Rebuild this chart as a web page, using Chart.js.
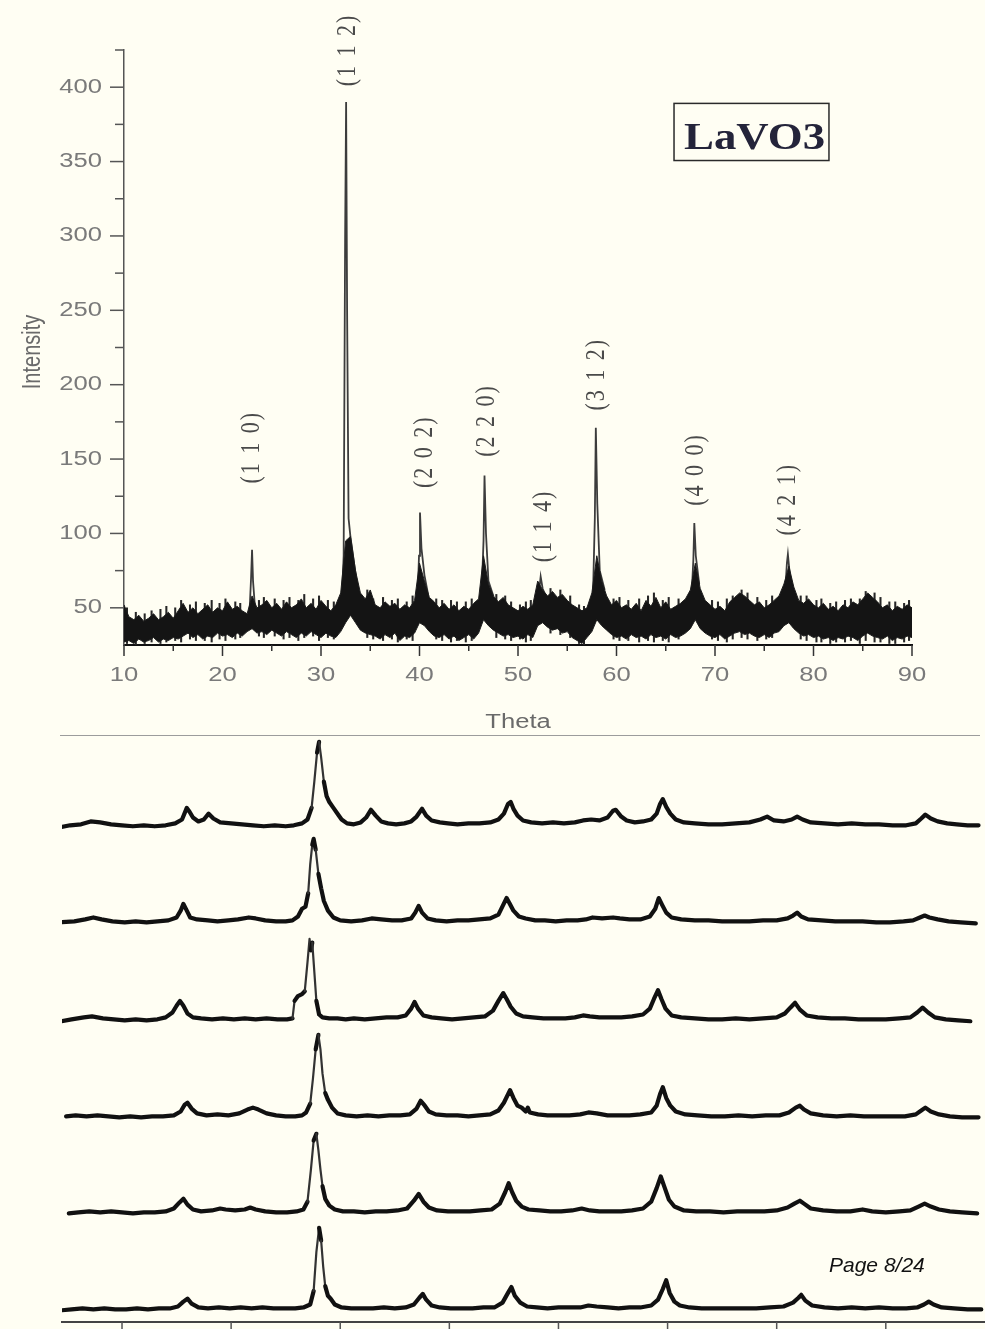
<!DOCTYPE html>
<html><head><meta charset="utf-8">
<script src="https://cdn.jsdelivr.net/npm/chart.js@4/dist/chart.umd.min.js"></script>
<style>
html,body{margin:0;padding:0;background:#fffef3;}
#wrap{position:relative;width:985px;height:1329px;overflow:hidden;background:#fffef3;}
#c1{position:absolute;left:0;top:0;}
#c2{position:absolute;left:0;top:736px;}
#sep{position:absolute;left:60px;top:735px;width:920px;height:0;border-top:1.5px solid #9c9c9c;}
#page{position:absolute;left:829px;top:1254px;font:italic 21px "Liberation Sans",Arial,sans-serif;line-height:21px;color:#111;white-space:nowrap;}
</style></head>
<body>
<div id="wrap">
<canvas id="c1" width="985" height="736"></canvas>
<div id="sep"></div>
<canvas id="c2" width="985" height="593"></canvas>
<div id="page">Page 8/24</div>
</div>
<script>
// ---------- TOP CHART DATA (LaVO3 XRD) ----------
const thetaStart = 10, thetaStep = 0.5; // sampling of the noise band, 10..90
const noiseUpper = [
 52,44,42,45,41,43,46,42,44,47,
 43,48,53,47,50,46,49,52,47,50,
 48,54,49,51,48,46,58,50,52,55,
 50,53,49,54,50,52,56,50,53,49,
 55,51,48,52,60,95,98,75,60,56,
 62,52,50,54,51,53,49,52,50,55,
 80,68,57,54,50,53,49,52,48,51,
 49,53,56,85,66,58,54,57,52,50,
 48,51,49,52,68,62,58,61,57,59,
 55,52,50,48,50,60,85,68,58,52,
 55,50,52,49,53,48,55,51,57,50,
 54,49,51,53,56,62,80,63,55,52,
 49,51,48,54,57,60,58,55,52,54,
 50,52,55,58,66,78,64,55,53,56,
 52,50,53,49,51,48,52,50,54,52,
 56,60,57,54,50,52,48,51,49,52,
 50];
const noiseLower = [
 27,28,26,29,27,28,30,27,29,28,
 30,29,31,33,30,32,29,31,30,33,
 31,32,30,33,31,34,36,33,34,32,
 35,33,31,34,32,30,33,31,34,32,
 30,33,31,30,34,40,45,40,35,33,
 32,31,29,32,30,33,28,31,30,33,
 40,38,34,31,30,32,29,31,28,30,
 32,29,33,42,38,35,33,31,32,30,
 31,29,32,30,38,40,37,35,36,33,
 34,30,28,26,30,34,42,38,35,32,
 30,31,29,32,30,31,29,32,30,31,
 29,32,30,31,33,36,42,36,33,31,
 30,32,29,31,33,34,32,33,31,30,
 32,30,33,34,38,40,36,33,31,32,
 30,31,29,30,28,30,29,31,30,28,
 31,33,31,30,29,31,28,30,29,31,
 30];
// isolated noise streaks sticking out of the band: [theta, low, high]
const noiseSpikes = [
 [10.3,26,50],[11.2,25,47],[12.1,26,46],[12.8,27,48],[13.7,26,49],[14.3,27,51],[15.2,28,50],[15.8,27,55],
 [16.7,29,52],[17.3,28,54],[18.2,28,53],[18.9,27,55],[19.7,29,53],[20.3,28,56],[21.3,29,54],[21.8,30,53],
 [23.7,31,55],[24.2,30,57],[25.3,31,56],[26.2,29,55],[26.8,30,57],[27.7,28,55],[28.3,30,59],[29.2,31,56],
 [29.8,28,58],[30.7,30,55],[31.3,29,54],[34.7,30,62],[35.3,29,56],[36.3,28,57],[37.2,29,55],[37.8,27,56],
 [38.7,29,54],[39.3,28,58],[41.7,29,56],[42.3,28,55],[43.2,27,55],[43.8,28,54],[44.7,27,54],[45.3,28,56],
 [47.8,30,59],[48.7,29,58],[49.3,28,54],[50.2,29,52],[50.8,27,54],[51.3,28,55],[53.3,33,63],[54.3,32,62],
 [55.3,30,58],[56.2,26,52],[56.7,24,51],[59.7,29,56],[60.3,28,57],[61.2,28,55],[62.3,27,56],[63.2,28,58],
 [63.8,27,60],[64.7,28,55],[65.3,27,57],[66.3,29,56],[69.7,29,55],[70.3,28,54],[71.2,27,56],[71.8,29,58],
 [72.7,30,62],[73.3,29,60],[74.3,28,57],[75.2,29,55],[75.8,30,58],[78.7,29,58],[79.3,28,58],[80.3,27,55],
 [80.8,27,56],[81.7,26,53],[82.3,27,54],[83.2,27,55],[83.8,28,56],[84.7,26,56],[85.3,28,61],[86.2,27,60],
 [86.8,27,57],[87.7,26,54],[88.3,26,54],[89.2,27,53],[89.7,28,55]];
// sharp Bragg peaks: [theta, intensity]
const peak110 = [[22.75,48],[22.9,70],[23.0,89],[23.1,68],[23.3,50]];
const peak112 = [[32.1,52],[32.3,85],[32.45,300],[32.55,390],[32.65,250],[32.8,110],[33.0,97],[33.4,78],[33.8,60]];
const peak202 = [[39.8,55],[39.95,85],[40.05,114],[40.2,90],[40.5,72],[40.9,58]];
const peak220 = [[46.3,58],[46.5,95],[46.6,139],[46.75,100],[47.0,68],[47.5,58]];
const peak114 = [[52.0,52],[52.2,65],[52.3,71],[52.5,63],[52.8,58]];
const peak312 = [[57.6,55],[57.8,110],[57.9,171],[58.05,120],[58.3,75],[58.8,62]];
const peak400 = [[67.6,55],[67.8,82],[67.9,107],[68.05,85],[68.4,66]];
const peak421 = [[77.1,58],[77.3,80],[77.4,86],[77.6,72],[78.0,60]];
const peakList = [peak110,peak112,peak202,peak220,peak114,peak312,peak400,peak421];

const xMajorTicks = [10,20,30,40,50,60,70,80,90];
const xMinorTicks = [15,25,35,45,55,65,75,85];
const yMajorTicks = [50,100,150,200,250,300,350,400];
const yMinorTicks = [75,125,175,225,275,325,375,425];

const hklText  = ['(1 1 0)','(1 1 2)','(2 0 2)','(2 2 0)','(1 1 4)','(3 1 2)','(4 0 0)','(4 2 1)'];
const hklTheta = [23.05, 32.7, 40.55, 46.9, 52.6, 58.0, 68.1, 77.4];
const hklY     = [158, 425, 155, 176, 105, 207, 143, 123];
const sampleName = 'LaVO3';
const sampleBox = {x0: 65.84, x1: 81.57, y0: 350.7, y1: 389.1};

// ---------- BOTTOM CHART DATA (six stacked patterns) ----------
const traceOffsets = [512, 412, 311, 211, 112, 12];
const trace1 = [[13.5,-2],[14.2,0],[15.0,1],[15.7,4],[16.4,3],[17.2,1],[18.0,0],[18.8,-1],[19.6,0],[20.4,-1],[21.2,0],[21.9,2],[22.4,6],[22.75,18],[22.95,14],[23.2,8],[23.6,4],[24.0,6],[24.35,12],[24.7,7],[25.2,3],[26.0,2],[26.8,1],[27.6,0],[28.4,-1],[29.2,0],[30.0,-1],[30.6,0],[31.2,2],[31.6,6],[31.9,18],[32.1,45],[32.3,75],[32.45,86],[32.6,70],[32.8,45],[33.0,30],[33.2,24],[33.5,18],[33.8,12],[34.1,6],[34.5,2],[35.0,1],[35.5,3],[35.9,8],[36.25,16],[36.6,10],[37.0,4],[37.5,2],[38.1,1],[38.7,2],[39.2,4],[39.6,9],[40.0,17],[40.3,10],[40.7,5],[41.3,3],[41.9,2],[42.6,1],[43.4,2],[44.2,2],[45.0,3],[45.6,6],[46.0,12],[46.3,22],[46.5,24],[46.7,17],[47.0,10],[47.4,5],[48.0,3],[48.8,2],[49.6,3],[50.4,2],[51.2,3],[51.8,5],[52.4,6],[53.0,5],[53.6,8],[54.0,15],[54.2,16],[54.6,9],[55.0,5],[55.6,3],[56.2,4],[56.8,6],[57.2,12],[57.45,22],[57.65,27],[57.9,19],[58.2,12],[58.6,6],[59.2,3],[60.0,2],[61.0,1],[62.0,1],[63.0,2],[64.0,3],[64.8,6],[65.3,9],[65.8,5],[66.5,4],[67.1,6],[67.5,9],[67.9,6],[68.5,3],[69.5,2],[70.5,1],[71.5,2],[72.5,1],[73.5,1],[74.5,0],[75.5,0],[76.2,2],[76.6,7],[76.9,11],[77.3,7],[77.8,4],[78.5,2],[79.2,1],[80.0,0],[80.8,0]];
const trace2 = [[13.5,0],[14.5,1],[15.3,3],[15.9,5],[16.5,3],[17.3,1],[18.2,0],[19.0,1],[19.8,0],[20.6,1],[21.4,2],[22.0,5],[22.3,12],[22.5,19],[22.75,12],[23.0,5],[23.5,3],[24.3,2],[25.0,1],[25.8,2],[26.5,3],[27.3,5],[27.8,4],[28.5,2],[29.3,1],[30.0,1],[30.5,2],[30.9,6],[31.2,14],[31.45,16],[31.65,30],[31.8,60],[31.95,80],[32.05,86],[32.2,75],[32.4,50],[32.6,35],[32.8,22],[33.1,12],[33.5,5],[34.0,2],[34.8,1],[35.6,2],[36.3,4],[37.0,3],[37.8,2],[38.5,2],[39.2,4],[39.5,10],[39.75,17],[40.0,10],[40.4,4],[41.0,2],[41.8,1],[42.6,2],[43.4,2],[44.2,3],[45.0,4],[45.6,8],[45.95,18],[46.2,25],[46.4,20],[46.7,12],[47.1,6],[47.6,4],[48.3,2],[49.0,2],[49.8,1],[50.6,2],[51.4,2],[52.0,3],[52.5,5],[53.2,4],[54.0,5],[54.5,4],[55.2,3],[56.0,3],[56.7,6],[57.1,14],[57.35,25],[57.6,18],[57.9,10],[58.3,5],[59.0,3],[60.0,2],[61.0,2],[62.0,1],[63.0,1],[64.0,1],[65.0,2],[66.0,2],[66.8,4],[67.2,7],[67.5,10],[67.8,6],[68.3,3],[69.3,2],[70.3,1],[71.3,1],[72.3,1],[73.3,0],[74.3,0],[75.3,1],[76.0,2],[76.5,5],[76.85,7],[77.2,5],[77.8,3],[78.6,1],[79.5,0],[80.6,-1]];
const trace3 = [[13.5,-1],[14.3,1],[15.2,3],[15.8,4],[16.6,2],[17.4,1],[18.2,0],[19.0,1],[19.8,0],[20.6,1],[21.2,3],[21.7,8],[22.0,15],[22.25,20],[22.5,15],[22.8,7],[23.2,3],[23.8,2],[24.6,1],[25.4,2],[26.2,1],[27.0,2],[27.8,1],[28.6,2],[29.4,1],[30.1,1],[30.5,2],[30.65,20],[30.9,25],[31.2,27],[31.4,30],[31.6,60],[31.75,84],[31.85,72],[31.95,80],[32.1,50],[32.25,20],[32.45,6],[32.7,3],[33.2,2],[33.8,2],[34.4,1],[35.0,2],[35.8,1],[36.6,2],[37.4,3],[38.2,3],[38.8,5],[39.2,12],[39.45,19],[39.7,12],[40.1,5],[40.7,3],[41.4,2],[42.2,1],[43.0,2],[43.8,3],[44.6,4],[45.2,10],[45.6,20],[45.95,28],[46.2,22],[46.5,14],[46.9,7],[47.4,4],[48.1,3],[48.9,2],[49.7,2],[50.5,2],[51.2,3],[51.8,5],[52.3,4],[53.0,3],[53.8,3],[54.6,3],[55.4,4],[56.2,6],[56.7,12],[57.0,22],[57.3,31],[57.55,22],[57.85,12],[58.3,5],[59.0,3],[60.0,2],[61.0,1],[62.0,1],[63.0,2],[64.0,1],[65.0,2],[66.0,3],[66.6,7],[67.0,13],[67.35,18],[67.7,11],[68.2,5],[69.0,3],[70.0,2],[71.0,2],[72.0,1],[73.0,1],[74.0,1],[75.0,2],[75.8,3],[76.3,8],[76.7,13],[77.1,8],[77.6,3],[78.4,1],[79.3,0],[80.2,-1]];
const trace4 = [[13.9,1],[14.6,2],[15.4,1],[16.2,2],[17.0,1],[17.8,0],[18.6,1],[19.4,0],[20.2,1],[21.0,1],[21.8,2],[22.3,6],[22.6,13],[22.8,15],[23.1,9],[23.5,4],[24.2,2],[25.0,3],[25.8,2],[26.6,4],[27.2,8],[27.6,10],[28.0,8],[28.6,4],[29.3,2],[30.0,1],[30.7,1],[31.2,2],[31.5,5],[31.8,14],[32.0,40],[32.2,70],[32.4,85],[32.55,70],[32.7,45],[32.9,25],[33.1,18],[33.4,10],[33.8,4],[34.4,2],[35.2,1],[36.0,2],[36.8,1],[37.6,2],[38.4,2],[39.1,3],[39.6,9],[39.9,17],[40.2,12],[40.5,6],[41.0,3],[41.8,2],[42.6,2],[43.4,1],[44.2,2],[45.0,3],[45.6,7],[46.0,15],[46.45,28],[46.7,20],[47.0,12],[47.3,10],[47.6,6],[47.75,10],[47.9,5],[48.5,3],[49.2,2],[50.0,2],[50.8,2],[51.6,3],[52.2,5],[52.8,4],[53.6,2],[54.4,2],[55.2,2],[56.0,3],[56.8,5],[57.2,12],[57.45,24],[57.65,31],[57.9,20],[58.2,12],[58.6,6],[59.3,3],[60.2,2],[61.2,1],[62.2,1],[63.2,2],[64.2,1],[65.2,2],[66.2,2],[66.9,5],[67.4,10],[67.7,12],[68.0,8],[68.5,4],[69.4,2],[70.4,1],[71.4,2],[72.4,1],[73.4,1],[74.4,1],[75.4,1],[76.2,3],[76.6,7],[76.9,10],[77.3,6],[77.9,3],[78.7,1],[79.6,0],[80.8,0]];
const trace5 = [[14.1,0],[14.8,1],[15.6,2],[16.4,1],[17.2,2],[18.0,1],[18.8,0],[19.6,1],[20.4,1],[21.2,2],[21.8,5],[22.2,11],[22.5,15],[22.8,9],[23.2,4],[23.8,2],[24.6,3],[25.2,5],[25.6,4],[26.3,3],[27.0,4],[27.4,6],[27.8,4],[28.5,2],[29.3,1],[30.1,1],[30.8,2],[31.3,4],[31.6,12],[31.85,45],[32.05,75],[32.25,82],[32.4,65],[32.55,45],[32.7,28],[32.9,15],[33.2,8],[33.6,4],[34.2,2],[35.0,2],[35.8,1],[36.6,2],[37.4,2],[38.2,3],[38.9,5],[39.4,13],[39.75,20],[40.1,12],[40.5,6],[41.1,3],[41.9,2],[42.7,2],[43.5,2],[44.3,3],[45.1,4],[45.7,10],[46.1,22],[46.35,31],[46.6,22],[46.9,13],[47.3,7],[47.8,4],[48.6,3],[49.4,2],[50.2,2],[51.0,3],[51.7,5],[52.3,3],[53.0,2],[53.8,2],[54.6,2],[55.4,3],[56.2,5],[56.8,12],[57.2,26],[57.5,38],[57.8,26],[58.1,14],[58.5,7],[59.2,3],[60.1,2],[61.1,2],[62.1,1],[63.1,2],[64.1,2],[65.1,2],[66.0,3],[66.8,6],[67.3,10],[67.7,13],[68.0,10],[68.5,5],[69.4,3],[70.4,2],[71.4,2],[72.3,4],[73.0,2],[74.0,1],[75.0,2],[75.8,3],[76.4,7],[76.85,10],[77.3,7],[77.9,4],[78.7,2],[79.6,1],[80.7,0]];
const trace6 = [[13.5,0],[14.3,1],[15.1,2],[15.9,1],[16.7,2],[17.5,1],[18.3,1],[19.1,2],[19.9,1],[20.7,2],[21.5,2],[22.1,4],[22.5,9],[22.8,12],[23.1,7],[23.6,3],[24.3,2],[25.1,3],[25.9,2],[26.7,3],[27.5,2],[28.3,3],[29.1,2],[29.9,2],[30.7,2],[31.3,3],[31.8,6],[32.05,20],[32.25,60],[32.45,85],[32.6,72],[32.75,45],[32.9,25],[33.1,15],[33.3,12],[33.6,6],[34.1,3],[34.8,2],[35.6,2],[36.4,2],[37.2,3],[38.0,2],[38.8,3],[39.4,6],[39.8,13],[40.05,17],[40.3,11],[40.7,5],[41.3,3],[42.1,2],[42.9,2],[43.7,2],[44.5,3],[45.3,3],[45.9,8],[46.3,18],[46.55,24],[46.8,15],[47.2,8],[47.7,4],[48.4,3],[49.2,2],[50.0,3],[50.8,3],[51.6,3],[52.2,5],[52.8,4],[53.6,3],[54.4,2],[55.2,3],[56.0,3],[56.8,5],[57.3,11],[57.65,22],[57.9,31],[58.15,18],[58.5,9],[58.9,5],[59.6,3],[60.5,2],[61.5,2],[62.5,2],[63.5,2],[64.5,2],[65.5,3],[66.5,4],[67.2,8],[67.6,13],[67.8,16],[68.1,10],[68.6,5],[69.5,3],[70.5,2],[71.5,3],[72.5,2],[73.5,3],[74.5,2],[75.5,2],[76.3,3],[76.8,6],[77.15,9],[77.5,6],[78.1,3],[79.0,2],[80.0,1],[81.0,1]];
const traces = [trace1, trace2, trace3, trace4, trace5, trace6];
const bottomTicks = [18,26,34,42,50,58,66,74];

// ---------- helpers ----------
function textStretch(ctx, text, x, y, align, sx) {
  ctx.save(); ctx.translate(x, y); ctx.scale(sx, 1);
  ctx.textAlign = align; ctx.fillText(text, 0, 0); ctx.restore();
}
function textVertical(ctx, text, x, y, sx) {
  ctx.save(); ctx.translate(x, y); ctx.rotate(-Math.PI / 2); ctx.scale(1, sx);
  ctx.textAlign = 'center'; ctx.textBaseline = 'middle'; ctx.fillText(text, 0, 0); ctx.restore();
}

// ---------- top chart ----------
const grid = noiseUpper.map((_, i) => thetaStart + i * thetaStep);
const peakData = [];
peakList.forEach(p => {
  p.forEach(([t, v]) => peakData.push({x: t, y: v}));
  peakData.push({x: p[p.length - 1][0], y: null});
});

const topDecor = {
  id: 'topDecor',
  afterDraw(chart) {
    const {ctx, chartArea: a, scales: {x, y}} = chart;
    ctx.save();
    ctx.strokeStyle = '#555'; ctx.lineWidth = 1.5;
    y.ticks.forEach(t => { const py = y.getPixelForValue(t.value);
      ctx.beginPath(); ctx.moveTo(a.left - 14, py); ctx.lineTo(a.left, py); ctx.stroke(); });
    yMinorTicks.forEach(v => { const py = y.getPixelForValue(v);
      ctx.beginPath(); ctx.moveTo(a.left - 9, py); ctx.lineTo(a.left, py); ctx.stroke(); });
    ctx.strokeStyle = '#333';
    x.ticks.forEach(t => { const px = x.getPixelForValue(t.value);
      ctx.beginPath(); ctx.moveTo(px, a.bottom); ctx.lineTo(px, a.bottom + 11); ctx.stroke(); });
    xMinorTicks.forEach(v => { const px = x.getPixelForValue(v);
      ctx.beginPath(); ctx.moveTo(px, a.bottom); ctx.lineTo(px, a.bottom + 6); ctx.stroke(); });
    ctx.fillStyle = '#7a7a7a';
    ctx.font = '20px "Liberation Sans", Arial, sans-serif';
    ctx.textBaseline = 'middle';
    y.ticks.forEach(t => textStretch(ctx, String(t.value), a.left - 22, y.getPixelForValue(t.value), 'right', 1.28));
    x.ticks.forEach(t => textStretch(ctx, String(t.value), x.getPixelForValue(t.value), a.bottom + 30, 'center', 1.28));
    ctx.fillStyle = '#6a6a6a';
    textStretch(ctx, 'Theta', (a.left + a.right) / 2, a.bottom + 77, 'center', 1.28);
    textVertical(ctx, 'Intensity', 33, y.getPixelForValue(222), 1.28);
    ctx.fillStyle = '#4a4a4a';
    ctx.font = '22px "Liberation Serif", "Times New Roman", serif';
    try { ctx.letterSpacing = '2px'; } catch (e) {}
    hklText.forEach((s, i) => textVertical(ctx, s, x.getPixelForValue(hklTheta[i]), y.getPixelForValue(hklY[i]), 1.2));
    try { ctx.letterSpacing = '0px'; } catch (e) {}
    const bx0 = x.getPixelForValue(sampleBox.x0), bx1 = x.getPixelForValue(sampleBox.x1);
    const by0 = y.getPixelForValue(sampleBox.y1), by1 = y.getPixelForValue(sampleBox.y0);
    ctx.strokeStyle = '#2a2a2a'; ctx.lineWidth = 1.5;
    ctx.strokeRect(bx0, by0, bx1 - bx0, by1 - by0);
    ctx.save();
    ctx.beginPath(); ctx.rect(bx0, by0, bx1 - bx0 - 1, by1 - by0); ctx.clip();
    ctx.fillStyle = '#24243a';
    ctx.font = 'bold 38px "Liberation Serif", "Times New Roman", serif';
    ctx.textBaseline = 'alphabetic';
    textStretch(ctx, sampleName, bx0 + 10, by1 - 12, 'left', 1.18);
    ctx.restore();
    ctx.restore();
  }
};

new Chart(document.getElementById('c1'), {
  type: 'line',
  data: {
    datasets: [
      {data: noiseLower.map((v, i) => ({x: grid[i], y: v})), borderColor: '#1c1c1c', borderWidth: 1,
       pointRadius: 0, fill: false, tension: 0},
      {data: noiseUpper.map((v, i) => ({x: grid[i], y: v})), borderColor: '#1c1c1c', borderWidth: 1,
       backgroundColor: '#141414', pointRadius: 0, fill: '-1', tension: 0},
      {type: 'bar', data: noiseSpikes.map(([t, lo, hi]) => ({x: t, y: [lo, hi]})),
       backgroundColor: '#262626', borderWidth: 0, barThickness: 1.4, grouped: false},
      {data: peakData, borderColor: '#3c3c3c', borderWidth: 1.8, pointRadius: 0, fill: false,
       spanGaps: false, tension: 0}
    ]
  },
  options: {
    responsive: false, animation: false, events: [],
    layout: {padding: {top: 50, right: 73, left: 0, bottom: 0}},
    plugins: {legend: {display: false}, tooltip: {enabled: false}},
    scales: {
      x: {type: 'linear', min: 10, max: 90, offset: false,
          afterBuildTicks: s => { s.ticks = xMajorTicks.map(v => ({value: v})); },
          afterFit: s => { s.height = 91; },
          ticks: {display: false}, grid: {display: false, drawTicks: false, offset: false},
          border: {display: true, color: '#111', width: 2}},
      y: {type: 'linear', min: 25, max: 425,
          afterBuildTicks: s => { s.ticks = yMajorTicks.map(v => ({value: v})); },
          afterFit: s => { s.width = 124; },
          ticks: {display: false}, grid: {display: false, drawTicks: false},
          border: {display: true, color: '#555', width: 1.5}}
    }
  },
  plugins: [topDecor]
});

// ---------- bottom chart ----------
const bottomDecor = {
  id: 'bottomDecor',
  afterDraw(chart) {
    const {ctx, chartArea: a, scales: {x}} = chart;
    ctx.save();
    ctx.strokeStyle = '#555'; ctx.lineWidth = 1.5;
    x.ticks.forEach(t => { const px = x.getPixelForValue(t.value);
      ctx.beginPath(); ctx.moveTo(px, a.bottom); ctx.lineTo(px, a.bottom + 7); ctx.stroke(); });
    ctx.restore();
  }
};
const steep = c => {
  const dx = Math.abs(c.p1.parsed.x - c.p0.parsed.x) || 0.01;
  return Math.abs(c.p1.parsed.y - c.p0.parsed.y) / dx > 90;
};
new Chart(document.getElementById('c2'), {
  type: 'line',
  data: {
    datasets: traces.map((tr, k) => ({
      data: tr.map(([t, v]) => ({x: t, y: v + traceOffsets[k]})),
      borderColor: '#111', borderWidth: 4.2, pointRadius: 0, fill: false, tension: 0,
      borderJoinStyle: 'round', borderCapStyle: 'round',
      segment: {borderWidth: c => steep(c) ? 2.2 : 4.2, borderColor: c => steep(c) ? '#333' : '#111'}
    }))
  },
  options: {
    responsive: false, animation: false, events: [],
    layout: {padding: {top: 2, right: 1, left: 62, bottom: 0}},
    plugins: {legend: {display: false}, tooltip: {enabled: false}},
    scales: {
      x: {type: 'linear', min: 13.6, max: 81.2,
          afterBuildTicks: s => { s.ticks = bottomTicks.map(v => ({value: v})); },
          afterFit: s => { s.height = 7; },
          ticks: {display: false}, grid: {display: false, drawTicks: false},
          border: {display: true, color: '#444', width: 2}},
      y: {type: 'linear', min: 0, max: 602, display: false}
    }
  },
  plugins: [bottomDecor]
});
</script>
</body></html>
